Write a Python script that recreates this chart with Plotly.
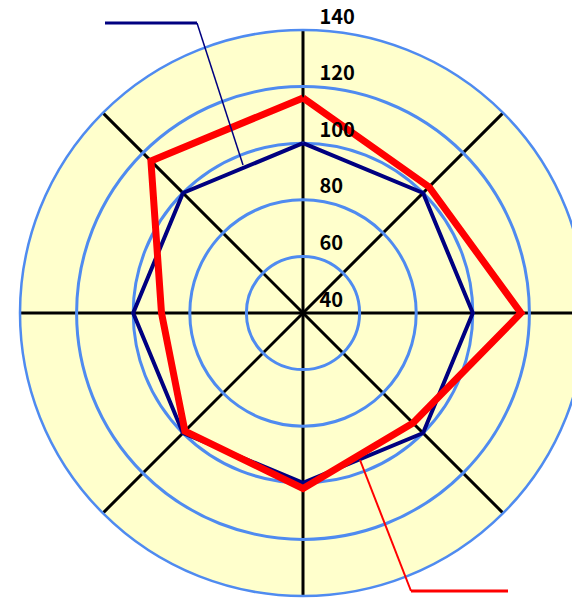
import plotly.graph_objects as go

# ---- data ----
categories = ["A", "B", "C", "D", "E", "F", "G", "H"]
series_blue = [100, 100, 100, 100, 100, 100, 100, 100]
series_red = [116, 103, 117, 95, 102, 99, 90, 116]
radial_ticks = [40, 60, 80, 100, 120, 140]
radial_tick_labels = ["40", "60", "80", "100", "120", "140"]

W, H = 590, 607
GRID_BLUE = "#4F8BF0"


def px(x):
    return x / W


def py(y):
    return (H - y) / H


fig = go.Figure()
for vals, color, width in [(series_blue, "#000080", 4), (series_red, "#FF0000", 7)]:
    fig.add_trace(go.Scatterpolar(
        r=vals + [vals[0]],
        theta=categories + [categories[0]],
        mode="lines",
        line=dict(color=color, width=width),
        showlegend=False,
        hoverinfo="skip",
    ))

# callout leader lines
shapes = []
for (x0, y0, x1, y1, color, w) in [
    (105, 23, 197, 23, "#000080", 3),
    (197, 23, 243, 165, "#000080", 1.5),
    (360, 460, 411, 591, "#FF0000", 2),
    (411, 591, 508, 591, "#FF0000", 3),
]:
    shapes.append(dict(type="line", xref="paper", yref="paper",
                       x0=px(x0), y0=py(y0), x1=px(x1), y1=py(y1),
                       line=dict(color=color, width=w)))

fig.update_layout(
    width=W, height=H,
    margin=dict(l=0, r=0, t=0, b=0),
    paper_bgcolor="white",
    showlegend=False,
    shapes=shapes,
    polar=dict(
        domain=dict(x=[px(20), px(586)], y=[py(596), py(30)]),
        bgcolor="#FFFFCC",
        radialaxis=dict(
            range=[40, 140],
            tickvals=radial_ticks,
            ticktext=[t + "<br>&nbsp;" for t in radial_tick_labels],
            angle=90,
            tickangle=90,
            showline=False,
            ticks="outside",
            ticklen=12,
            tickcolor="rgba(0,0,0,0)",
            gridcolor=GRID_BLUE,
            gridwidth=2.5,
            tickfont=dict(family="Noto Sans CJK JP", size=20, color="black", weight="bold"),
        ),
        angularaxis=dict(
            direction="clockwise",
            rotation=90,
            showticklabels=False,
            ticks="",
            gridcolor="black",
            gridwidth=2.5,
            showline=True,
            linecolor=GRID_BLUE,
            linewidth=2.5,
        ),
    ),
)

fig.write_html(
    "out.html",
    config={"displayModeBar": False},
    post_script="document.body.style.margin='0';document.body.style.overflow='hidden';",
)
